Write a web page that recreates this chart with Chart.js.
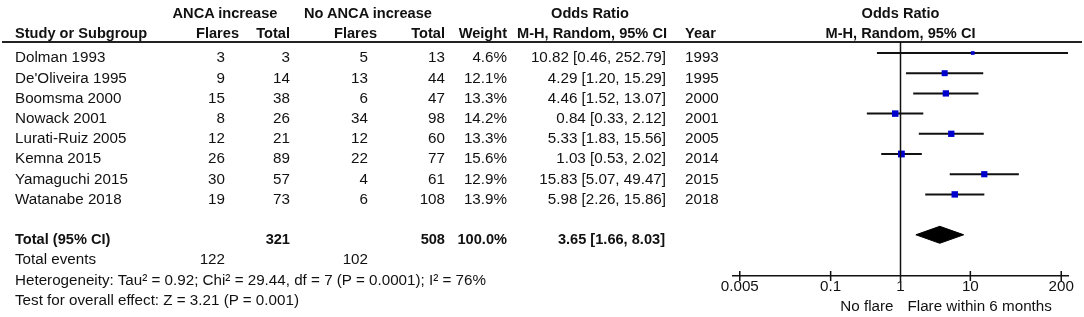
<!DOCTYPE html>
<html>
<head>
<meta charset="utf-8">
<script src="https://cdn.jsdelivr.net/npm/chart.js@4.4.1/dist/chart.umd.min.js"></script>
<style>
  html, body { margin: 0; padding: 0; background: #fff; }
  #wrap {
    position: relative; width: 1084px; height: 317px; overflow: hidden;
    font-family: "Liberation Sans", Arial, sans-serif; font-size: 15.2px; color: #111;
  }
  #wrap canvas { position: absolute; left: 0; top: 0; }
  .t { position: absolute; line-height: 16px; white-space: nowrap; }
  .b { font-weight: bold; font-size: 14.6px; }
</style>
</head>
<body>
<div id="wrap"><canvas id="forest" width="1084" height="317"></canvas></div>
<script>
const studies    = ["Dolman 1993", "De'Oliveira 1995", "Boomsma 2000", "Nowack 2001",
                    "Lurati-Ruiz 2005", "Kemna 2015", "Yamaguchi 2015", "Watanabe 2018"]
const ancaFlares = [3, 9, 15, 8, 12, 26, 30, 19]
const ancaTotal  = [3, 14, 38, 26, 21, 89, 57, 73]
const noFlares   = [5, 13, 6, 34, 12, 22, 4, 6]
const noTotal    = [13, 44, 47, 98, 60, 77, 61, 108]
const weights    = [4.6, 12.1, 13.3, 14.2, 13.3, 15.6, 12.9, 13.9]
const oddsRatio  = [10.82, 4.29, 4.46, 0.84, 5.33, 1.03, 15.83, 5.98]
const ciLow      = [0.46, 1.20, 1.52, 0.33, 1.83, 0.53, 5.07, 2.26]
const ciHigh     = [252.79, 15.29, 13.07, 2.12, 15.56, 2.02, 49.47, 15.86]
const years      = [1993, 1995, 2000, 2001, 2005, 2014, 2015, 2018]

const pooledOR   = 3.65
const pooledLow  = 1.66
const pooledHigh = 8.03
const tickValues = [0.005, 0.1, 1, 10, 200]

const heterogeneity = "Heterogeneity: Tau\u00b2 = 0.92; Chi\u00b2 = 29.44, df = 7 (P = 0.0001); I\u00b2 = 76%"
const overallEffect = "Test for overall effect: Z = 3.21 (P = 0.001)"

const blue        = "#0000cc"
const ink         = "#111"
const diamondHalf = 0.42
const totalRow    = studies.length + 1
const sum = arr => arr.reduce((a, b) => a + b, 0)

// frame lines: header rule, line of no effect, axis tick marks
const framePlugin = {
  id: "frame",
  afterDraw(chart) {
    const { ctx, chartArea, scales } = chart
    const x1 = scales.x.getPixelForValue(1)
    ctx.save()
    ctx.strokeStyle = "#222"
    ctx.lineWidth = 2
    ctx.beginPath()
    ctx.moveTo(2, chartArea.top)
    ctx.lineTo(1082, chartArea.top)
    ctx.stroke()
    ctx.strokeStyle = ink
    ctx.lineWidth = 1.5
    ctx.beginPath()
    ctx.moveTo(x1, chartArea.top)
    ctx.lineTo(x1, chartArea.bottom)
    scales.x.ticks.forEach(t => {
      const px = scales.x.getPixelForValue(t.value)
      ctx.moveTo(px, chartArea.bottom - 5)
      ctx.lineTo(px, chartArea.bottom + 5)
    })
    ctx.stroke()
    ctx.restore()
  }
}

const ciSets = studies.map((s, i) => ({
  label: s,
  data: [{ x: ciLow[i], y: i }, { x: ciHigh[i], y: i }],
  showLine: true,
  borderColor: ink,
  borderWidth: 2,
  pointRadius: 0,
  order: 2
}))

const chart = new Chart(document.getElementById("forest"), {
  type: "scatter",
  data: {
    datasets: [
      {
        label: "Odds ratio",
        data: oddsRatio.map((v, i) => ({ x: v, y: i })),
        pointStyle: "rect",
        pointRadius: weights.map(w => 1.22 * Math.sqrt(w)),
        backgroundColor: blue,
        borderColor: blue,
        borderWidth: 0,
        order: 0
      },
      ...ciSets,
      {
        label: "Total",
        data: [
          { x: pooledLow,  y: totalRow },
          { x: pooledOR,   y: totalRow - diamondHalf },
          { x: pooledHigh, y: totalRow },
          { x: pooledOR,   y: totalRow + diamondHalf },
          { x: pooledLow,  y: totalRow }
        ],
        showLine: true,
        fill: "shape",
        backgroundColor: "#000",
        borderColor: "#000",
        borderWidth: 1,
        pointRadius: 0,
        order: 1
      }
    ]
  },
  options: {
    responsive: false,
    animation: false,
    layout: { padding: { left: 733, right: 16, top: 42, bottom: 17 } },
    plugins: { legend: { display: false }, tooltip: { enabled: false } },
    scales: {
      x: {
        type: "logarithmic",
        min: 0.004,
        max: 250,
        afterBuildTicks: s => { s.ticks = tickValues.map(v => ({ value: v })) },
        afterFit: s => { s.height = 24 },
        grid:   { display: false, drawTicks: false },
        border: { display: true, color: ink, width: 1.5 },
        ticks:  {
          color: ink,
          padding: 2,
          maxRotation: 0,
          autoSkip: false,
          font: { family: "'Liberation Sans', Arial, sans-serif", size: 15.2 },
          callback: v => String(v)
        }
      },
      y: {
        type: "linear",
        display: false,
        reverse: true,
        min: -0.545,
        max: 11.04
      }
    }
  },
  plugins: [framePlugin]
})

// table text, rows placed on the chart's y scale
const wrap = document.getElementById("wrap")
function put(text, x, base, align, bold) {
  const el = document.createElement("div")
  el.className = bold ? "t b" : "t"
  el.textContent = text
  const fs = bold ? 14.6 : 15.2
  el.style.top = (base - (8 + 0.3465 * fs)) + "px"
  if (align === "right") el.style.right = (1084 - x) + "px"
  else if (align === "center") { el.style.left = x + "px"; el.style.transform = "translateX(-50%)" }
  else el.style.left = x + "px"
  wrap.appendChild(el)
}
const rowBase = i => chart.scales.y.getPixelForValue(i) + 9.6
const xOne = chart.scales.x.getPixelForValue(1)

put("ANCA increase", 225, 18, "center", true)
put("No ANCA increase", 368, 18, "center", true)
put("Odds Ratio", 590, 18, "center", true)
put("Odds Ratio", xOne, 18, "center", true)
put("Study or Subgroup", 15, 38, "left", true)
put("Flares", 239, 38, "right", true)
put("Total", 290, 38, "right", true)
put("Flares", 377, 38, "right", true)
put("Total", 445, 38, "right", true)
put("Weight", 507, 38, "right", true)
put("M-H, Random, 95% CI", 667, 38, "right", true)
put("Year", 685, 38, "left", true)
put("M-H, Random, 95% CI", xOne, 38, "center", true)

studies.forEach((s, i) => {
  const b = rowBase(i)
  put(s, 15, b, "left")
  put(String(ancaFlares[i]), 225, b, "right")
  put(String(ancaTotal[i]), 290, b, "right")
  put(String(noFlares[i]), 368, b, "right")
  put(String(noTotal[i]), 445, b, "right")
  put(weights[i].toFixed(1) + "%", 507, b, "right")
  put(`${oddsRatio[i].toFixed(2)} [${ciLow[i].toFixed(2)}, ${ciHigh[i].toFixed(2)}]`, 666, b, "right")
  put(String(years[i]), 685, b, "left")
})

const tb = rowBase(totalRow)
put("Total (95% CI)", 15, tb, "left", true)
put(String(sum(ancaTotal)), 290, tb, "right", true)
put(String(sum(noTotal)), 445, tb, "right", true)
put("100.0%", 507, tb, "right", true)
put(`${pooledOR.toFixed(2)} [${pooledLow.toFixed(2)}, ${pooledHigh.toFixed(2)}]`, 665, tb, "right", true)

const eb = rowBase(totalRow + 1)
put("Total events", 15, eb, "left")
put(String(sum(ancaFlares)), 225, eb, "right")
put(String(sum(noFlares)), 368, eb, "right")
put(heterogeneity, 15, rowBase(totalRow + 2), "left")
put(overallEffect, 15, rowBase(totalRow + 3), "left")

put("No flare", xOne - 7, 311, "right")
put("Flare within 6 months", xOne + 7, 311, "left")
</script>
</body>
</html>
